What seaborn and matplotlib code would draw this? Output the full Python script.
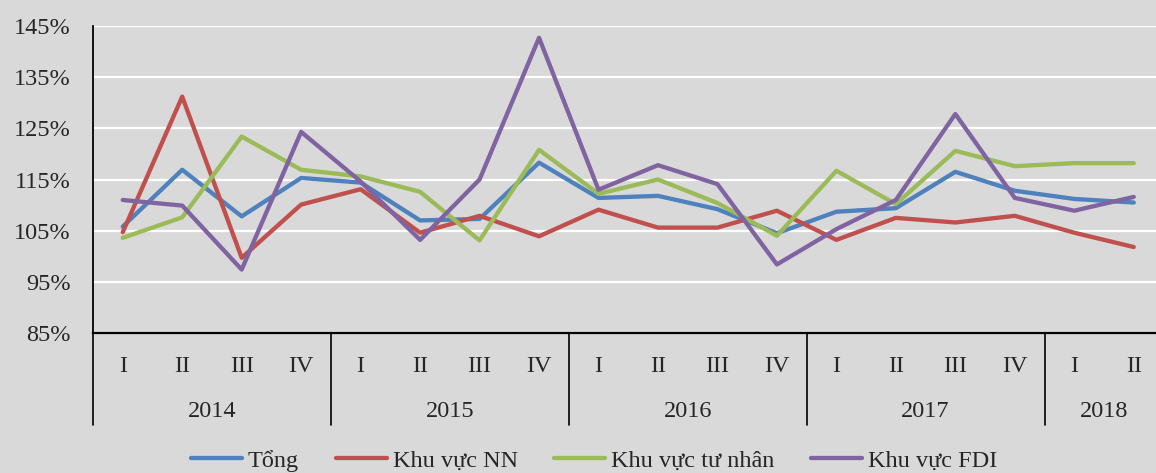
import pandas as pd
import matplotlib
matplotlib.use("Agg")
import matplotlib.pyplot as plt
import matplotlib.transforms as mtransforms
import seaborn as sns

# Quarterly growth (%) by sector
quarters = ["I", "II", "III", "IV"] * 4 + ["I", "II"]
years = ["2014", "2015", "2016", "2017", "2018"]
year_spans = [4, 4, 4, 4, 2]

tong = [105.8, 116.9, 107.8, 115.3, 114.4, 107.0, 107.3, 118.3, 111.4,
        111.8, 109.2, 104.5, 108.7, 109.4, 116.5, 112.8, 111.2, 110.5]
khu_vuc_nn = [104.7, 131.2, 99.7, 110.1, 113.1, 104.6, 107.9, 103.9, 109.1,
              105.6, 105.6, 108.9, 103.2, 107.5, 106.6, 107.9, 104.6, 101.8]
tu_nhan = [103.6, 107.6, 123.4, 116.9, 115.6, 112.6, 103.1, 120.8, 112.2,
           115.0, 110.4, 104.0, 116.7, 110.2, 120.6, 117.6, 118.2, 118.2]
fdi = [111.0, 109.9, 97.4, 124.3, 114.6, 103.2, 115.0, 142.7, 113.0,
       117.8, 114.1, 98.4, 105.3, 111.0, 127.8, 111.4, 108.9, 111.6]

series = {"Tổng": tong, "Khu vực NN": khu_vuc_nn,
          "Khu vực tư nhân": tu_nhan, "Khu vực FDI": fdi}
colors = ["#4F81BD", "#C0504D", "#9BBB59", "#8064A2"]

rows = []
for name, vals in series.items():
    for i, v in enumerate(vals):
        rows.append({"pos": i, "value": v, "series": name})
df = pd.DataFrame(rows)

sns.set_style("white", {"axes.facecolor": "#D9D9D9", "figure.facecolor": "#D9D9D9"})
plt.rcParams["font.family"] = ["Liberation Serif", "DejaVu Serif"]
fs = 17.5

fig = plt.figure(figsize=(11.56, 4.73), dpi=100)
ax = fig.add_axes([93 / 1156, 140 / 473, 1070.5 / 1156, 307 / 473])

sns.lineplot(data=df, x="pos", y="value", hue="series", palette=colors,
             linewidth=3.1, ax=ax, sort=False)

ax.set_xlim(-0.5, len(quarters) - 0.5)
ax.set_ylim(85, 145)
ax.set_yticks(range(85, 146, 10))
ax.set_yticklabels([f"{v}%" for v in range(85, 146, 10)], fontsize=fs)
ax.tick_params(axis="y", length=0, pad=16)
ax.yaxis.grid(True, color="white", linewidth=1.6)
ax.set_axisbelow(True)
ax.set_xlabel("")
ax.set_ylabel("")

for s in ["top", "right"]:
    ax.spines[s].set_visible(False)
ax.spines["left"].set_color("black")
ax.spines["left"].set_linewidth(1.3)
ax.spines["bottom"].set_color("black")
ax.spines["bottom"].set_linewidth(1.6)

# category boundaries (quarter level)
n = len(quarters)
ax.set_xticks([i - 0.5 for i in range(n + 1)])
ax.set_xticklabels([])
ax.tick_params(axis="x", length=33, width=1.2, color="black", direction="out")

trans = mtransforms.blended_transform_factory(ax.transData, ax.transAxes)
for i, q in enumerate(quarters):
    ax.text(i, -0.11, q, transform=trans, ha="center", va="center", fontsize=fs)

# year level
start = 0
for y, span in zip(years, year_spans):
    ax.plot([start - 0.5, start - 0.5], [0, -0.30], transform=trans,
            color="black", lw=1.2, clip_on=False)
    ax.text(start + span / 2 - 0.5, -0.257, y, transform=trans,
            ha="center", va="center", fontsize=fs)
    start += span

handles, labels = ax.get_legend_handles_labels()
ax.get_legend().remove()
fig.legend(handles, labels, loc="center", bbox_to_anchor=(0.514, 0.026),
           ncol=4, frameon=False, fontsize=fs, handlelength=2.1,
           handletextpad=0.25, columnspacing=1.5)

fig.savefig("out.png", dpi=100, facecolor=fig.get_facecolor())
